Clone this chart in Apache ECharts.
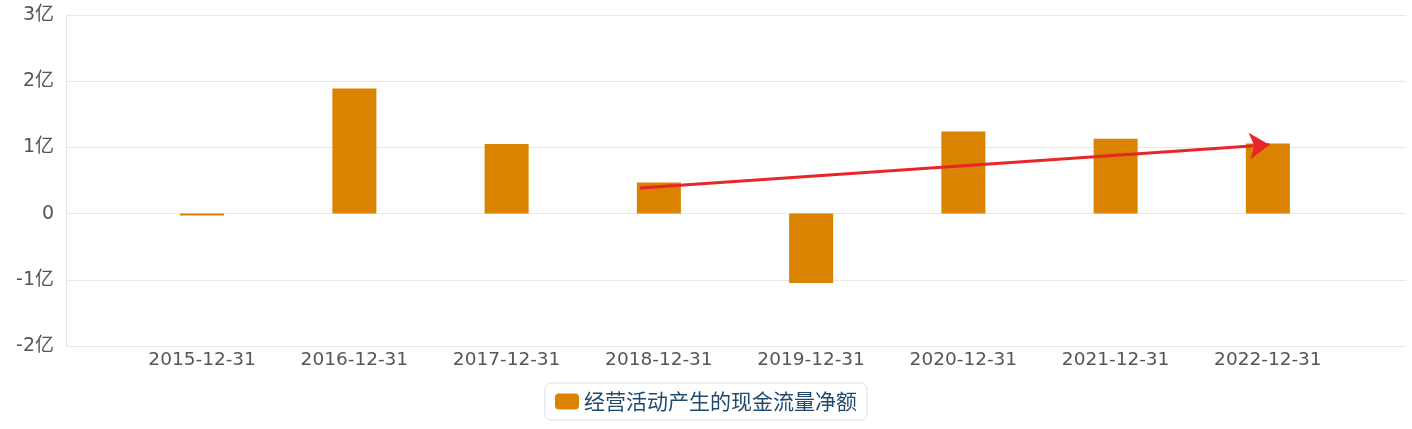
<!DOCTYPE html>
<html><head><meta charset="utf-8">
<script src="https://cdn.jsdelivr.net/npm/echarts@6/dist/echarts.min.js"></script>
<style>html,body{margin:0;padding:0;background:#fff}#c{width:1412px;height:429px}</style>
</head><body><div id="c"></div>
<script>
const categories = ['2015-12-31','2016-12-31','2017-12-31','2018-12-31','2019-12-31','2020-12-31','2021-12-31','2022-12-31'];
const cashFlow = [-0.03e8, 1.89e8, 1.05e8, 0.47e8, -1.05e8, 1.24e8, 1.13e8, 1.06e8];
const seriesName = '经营活动产生的现金流量净额';
const yTicks = { min: -2e8, max: 3e8, interval: 1e8 };
// trend arrow annotation: [category position, value]
const trendArrow = [[2.875, 0.385e8], [7.01, 1.04e8]];

const font = 'Noto Sans CJK SC, Noto Sans, sans-serif';
const numFont = 'DejaVu Sans, Noto Sans CJK SC, sans-serif';
const fmt = v => v === 0 ? '0' : (v / 1e8) + '亿';
const chart = echarts.init(document.getElementById('c'));
chart.setOption({
  animation: false,
  textStyle: { fontFamily: font },
  grid: [
    { left: 66, right: 6, top: 15, bottom: 83 },
    { left: 126, right: 68, top: 15, bottom: 83 }
  ],
  legend: {
    data: [seriesName], left: 'center', top: 383,
    itemWidth: 24, itemHeight: 16, itemGap: 8,
    borderColor: '#dddddd', borderWidth: 1, borderRadius: 6,
    padding: [8, 10, 8, 10],
    textStyle: { color: '#1f4a6e', fontSize: 21, fontFamily: font },
    icon: 'roundRect'
  },
  xAxis: [
    { type: 'category', gridIndex: 0, data: categories, show: false },
    { type: 'category', gridIndex: 1, data: categories,
      axisLine: { show: false }, axisTick: { show: false },
      axisLabel: { color: '#555', fontSize: 18.5, margin: 5, fontFamily: numFont } },
    { type: 'value', gridIndex: 1, min: -0.5, max: 7.5, show: false }
  ],
  yAxis: [
    { type: 'value', gridIndex: 0, min: yTicks.min, max: yTicks.max, interval: yTicks.interval,
      axisLine: { show: true, lineStyle: { color: '#e6e6e6' } }, axisTick: { show: false },
      splitLine: { lineStyle: { color: '#e8e8e8' } },
      axisLabel: { color: '#555', fontSize: 19, margin: 12, formatter: fmt, fontFamily: numFont } },
    { type: 'value', gridIndex: 1, min: yTicks.min, max: yTicks.max, interval: yTicks.interval, show: false }
  ],
  series: [
    { name: seriesName, type: 'bar', xAxisIndex: 1, yAxisIndex: 1, data: cashFlow,
      barWidth: 44, itemStyle: { color: '#d98300' } },
    { type: 'lines', coordinateSystem: 'cartesian2d', xAxisIndex: 2, yAxisIndex: 1,
      polyline: false, symbol: ['none', 'arrow'], symbolSize: [14, 20],
      lineStyle: { color: '#e8262a', width: 3, opacity: 1 },
      data: [{ coords: trendArrow }], silent: true, z: 5 }
  ]
});
</script></body></html>
